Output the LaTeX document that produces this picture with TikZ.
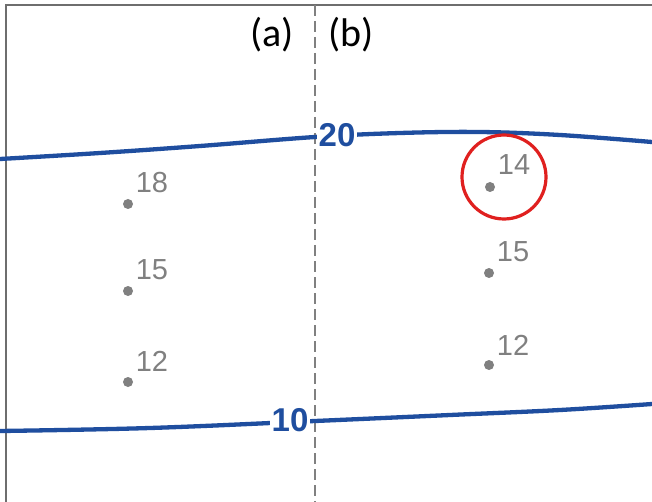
\documentclass[tikz,border=0pt]{standalone}
\usepackage{fontspec}
\setmainfont{Liberation Sans}
\newfontfamily\panelfont{Carlito}
\usetikzlibrary{positioning}
\definecolor{isoblue}{HTML}{1F4E9F}
\definecolor{ptgray}{HTML}{808080}
\definecolor{framegray}{HTML}{6E6E6E}
\definecolor{markred}{HTML}{E0201F}

\begin{document}
\begin{tikzpicture}[
  x=1pt, y=-1pt,
  obspt/.style={circle, fill=ptgray, inner sep=0pt, minimum size=10pt},
  obslabel/.style={text=ptgray, font=\fontsize{29}{29}\selectfont, inner sep=0pt},
  isoline/.style={isoblue, line width=4.3pt, line cap=round},
  isolabel/.style={text=isoblue, font=\fontsize{33}{33}\selectfont\bfseries, fill=white, inner sep=1.5pt},
  panel/.style={font=\panelfont\fontsize{40}{40}\selectfont, inner sep=0pt},
]
\useasboundingbox (0,0) rectangle (652,502);
\fill[white] (0,0) rectangle (652,502);
\draw[framegray, line width=2.4pt] (6,502) -- (6,5) -- (652,5);
\draw[ptgray, line width=2.2pt, dash pattern=on 11pt off 5pt] (315,5) -- (315,502);

\node[panel] (pa) at (272,35) {(a)};
\node[panel] (pb) at (351,35) {(b)};

\draw[isoline] plot[smooth, tension=0.6] coordinates {(0,159) (100,153) (200,146) (315,137) (400,133) (480,132) (560,135) (652,142)};
\draw[isoline] plot[smooth, tension=0.6] coordinates {(0,431) (150,428) (315,421) (450,415) (560,410) (652,404)};
\node[isolabel] (iso20) at (337,135) {20};
\node[isolabel] (iso10) at (290,420) {10};

\node[obspt] (a18) at (128,204) {};
\node[obspt] (a15) at (128,291) {};
\node[obspt] (a12) at (128,382) {};
\node[obslabel] (la18) at (152,183) {18};
\node[obslabel] (la15) at (152,270) {15};
\node[obslabel] (la12) at (152,361) {12};

\node[obspt] (b14) at (490,187) {};
\node[obspt] (b15) at (489,273) {};
\node[obspt] (b12) at (489,365) {};
\node[obslabel] (lb14) at (514,165) {14};
\node[obslabel] (lb15) at (513,252) {15};
\node[obslabel] (lb12) at (513,345) {12};

\node[circle, draw=markred, line width=3.2pt, minimum size=84pt, inner sep=0pt] (mark) at (504,177) {};
\end{tikzpicture}
\end{document}
